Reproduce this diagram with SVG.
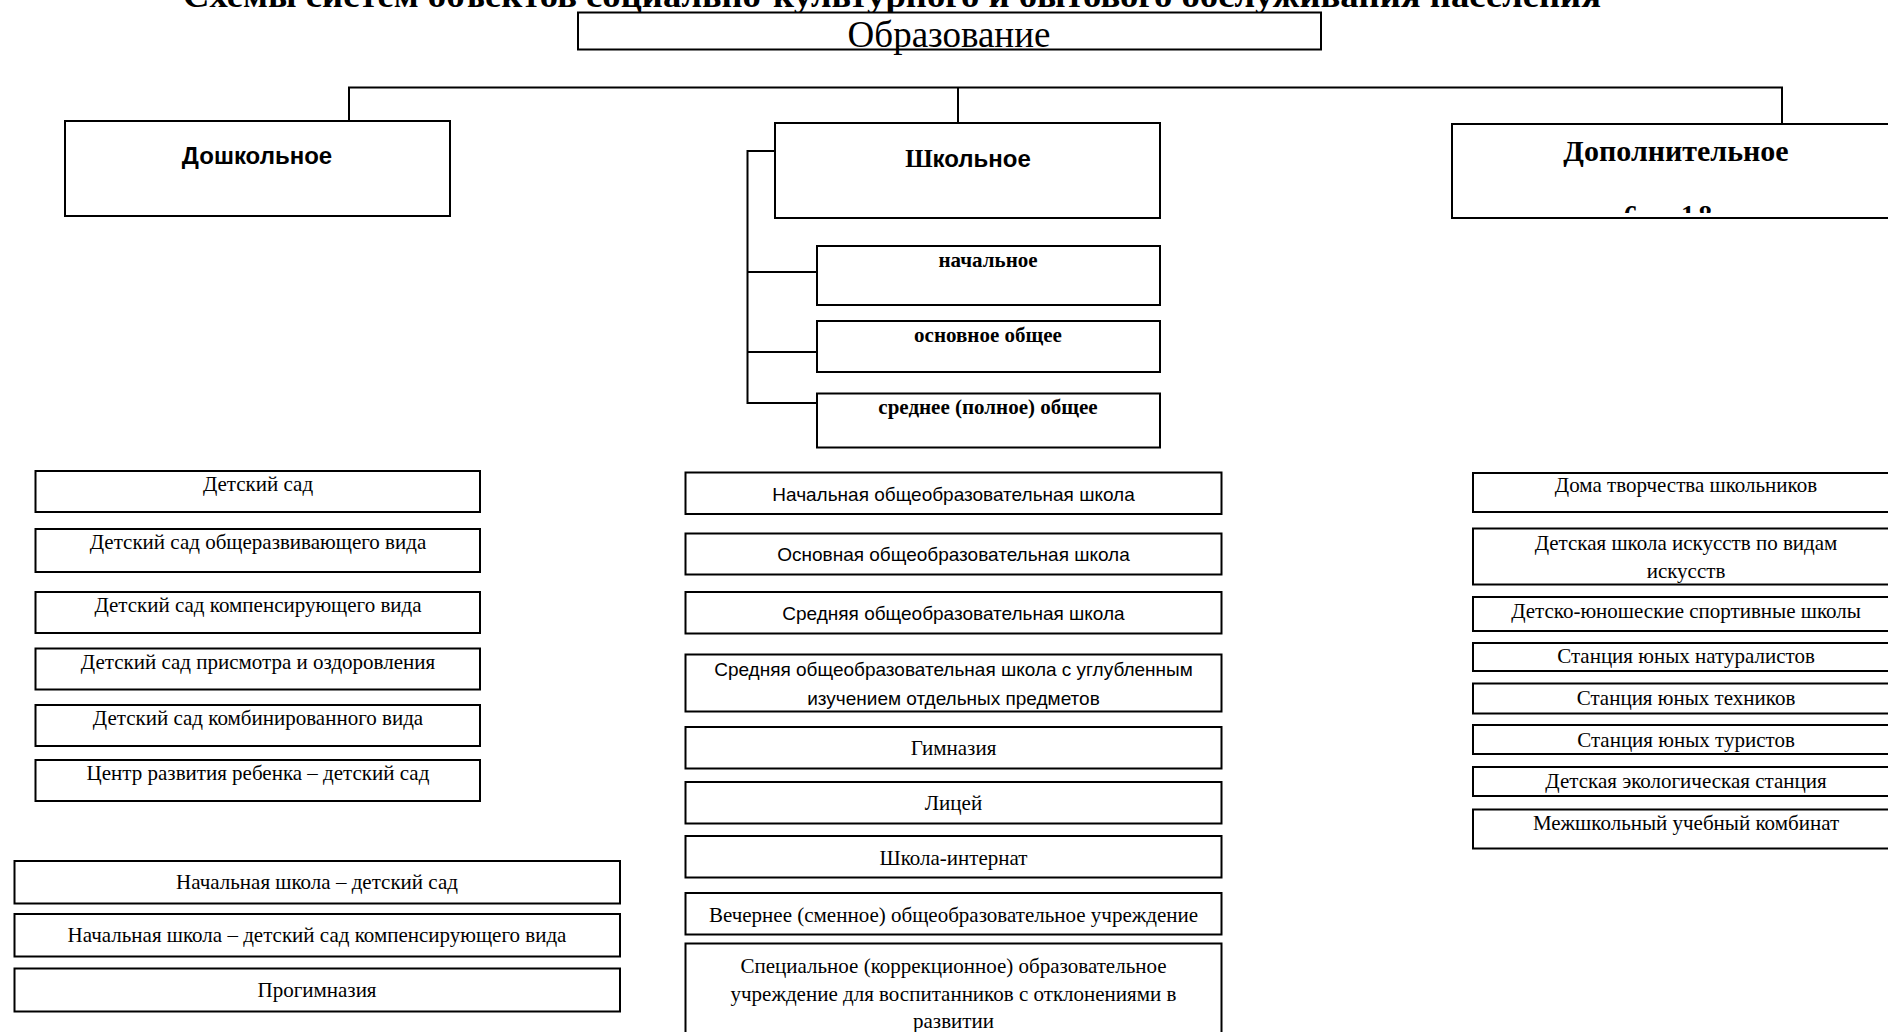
<svg xmlns="http://www.w3.org/2000/svg" width="1888" height="1032" viewBox="0 0 1888 1032">
<style>
.bg{fill:#fff}
.box{fill:#fff;stroke:#000;stroke-width:2}
.conn{fill:none;stroke:#000;stroke-width:2}
.ser{font-family:"Liberation Serif","Times New Roman",serif;font-size:21px;text-anchor:middle;fill:#000}
.serb{font-family:"Liberation Serif","Times New Roman",serif;font-weight:bold;text-anchor:middle;fill:#000}
.san{font-family:"Liberation Sans",Arial,sans-serif;font-size:19px;text-anchor:middle;fill:#000}
.sanb{font-family:"Liberation Sans",Arial,sans-serif;font-weight:bold;text-anchor:middle;fill:#000}
</style>
<defs>
<clipPath id="clipDop"><rect x="1452" y="124" width="436" height="89"/></clipPath>
</defs>
<rect class="bg" x="0" y="0" width="1888" height="1032"/>

<g id="title">
<text class="serb" x="892" y="7" font-size="34" textLength="1418" lengthAdjust="spacingAndGlyphs">Схемы систем объектов социально-культурного и бытового обслуживания населения</text>
</g>

<g id="connectors">
<polyline class="conn" points="349,121 349,87.5 1782,87.5 1782,123"/>
<line class="conn" x1="958" y1="87.5" x2="958" y2="123"/>
<polyline class="conn" points="775,151 747.5,151 747.5,403 817,403"/>
<line class="conn" x1="747.5" y1="272" x2="817" y2="272"/>
<line class="conn" x1="747.5" y1="352" x2="817" y2="352"/>
</g>

<g id="n-obrazovanie">
<rect class="box" x="578" y="12.5" width="743" height="37"/>
<text class="ser" x="949" y="47" style="font-size:37px">Образование</text>
</g>

<g id="n-doshk">
<rect class="box" x="65" y="121" width="385" height="95"/>
<text class="sanb" x="257" y="164" font-size="24">Дошкольное</text>
</g>

<g id="n-shkol">
<rect class="box" x="775" y="123" width="385" height="95"/>
<text x="968" y="167" text-anchor="middle" font-weight="bold" font-size="25"><tspan font-family="Liberation Serif,serif">Ш</tspan><tspan font-family="Liberation Sans,sans-serif" font-size="24">кольное</tspan></text>
</g>

<g id="n-dop">
<rect class="box" x="1452" y="124" width="450" height="94"/>
<text class="serb" x="1676" y="161" font-size="30">Дополнительное</text>
<g clip-path="url(#clipDop)"><text class="serb" x="1624" y="223.5" font-size="27" style="text-anchor:start" textLength="88" lengthAdjust="spacing">6 – 18</text></g>
</g>

<g id="n-nach">
<rect class="box" x="817" y="246" width="343" height="59"/>
<text class="serb" x="988" y="267" font-size="21">начальное</text>
</g>
<g id="n-osn">
<rect class="box" x="817" y="321" width="343" height="51"/>
<text class="serb" x="988" y="342" font-size="21">основное общее</text>
</g>
<g id="n-sred">
<rect class="box" x="817" y="393.5" width="343" height="54"/>
<text class="serb" x="988" y="413.5" font-size="21">среднее (полное) общее</text>
</g>

<!-- left column -->
<g id="l1"><rect class="box" x="35.5" y="471" width="444.5" height="41"/><text class="ser" x="258" y="491">Детский сад</text></g>
<g id="l2"><rect class="box" x="35.5" y="529" width="444.5" height="43"/><text class="ser" x="258" y="549">Детский сад общеразвивающего вида</text></g>
<g id="l3"><rect class="box" x="35.5" y="592" width="444.5" height="41"/><text class="ser" x="258" y="612">Детский сад компенсирующего вида</text></g>
<g id="l4"><rect class="box" x="35.5" y="648.5" width="444.5" height="41"/><text class="ser" x="258" y="668.5">Детский сад присмотра и оздоровления</text></g>
<g id="l5"><rect class="box" x="35.5" y="705" width="444.5" height="41"/><text class="ser" x="258" y="725">Детский сад комбинированного вида</text></g>
<g id="l6"><rect class="box" x="35.5" y="760" width="444.5" height="41"/><text class="ser" x="258" y="780">Центр развития ребенка – детский сад</text></g>

<g id="b1"><rect class="box" x="14.5" y="861" width="605.5" height="42.5"/><text class="ser" x="317" y="889">Начальная школа – детский сад</text></g>
<g id="b2"><rect class="box" x="14.5" y="914" width="605.5" height="42.5"/><text class="ser" x="317" y="942">Начальная школа – детский сад компенсирующего вида</text></g>
<g id="b3"><rect class="box" x="14.5" y="968.5" width="605.5" height="43"/><text class="ser" x="317" y="997">Прогимназия</text></g>

<!-- middle column -->
<g id="m1"><rect class="box" x="685.5" y="472.5" width="536" height="41.5"/><text class="san" x="953.5" y="501">Начальная общеобразовательная школа</text></g>
<g id="m2"><rect class="box" x="685.5" y="533.5" width="536" height="41"/><text class="san" x="953.5" y="561">Основная общеобразовательная школа</text></g>
<g id="m3"><rect class="box" x="685.5" y="592" width="536" height="41.5"/><text class="san" x="953.5" y="620">Средняя общеобразовательная школа</text></g>
<g id="m4"><rect class="box" x="685.5" y="654.5" width="536" height="57"/><text class="san" x="953.5" y="676">Средняя общеобразовательная школа с углубленным</text><text class="san" x="953.5" y="705">изучением отдельных предметов</text></g>
<g id="m5"><rect class="box" x="685.5" y="727" width="536" height="41.5"/><text class="ser" x="953.5" y="755">Гимназия</text></g>
<g id="m6"><rect class="box" x="685.5" y="782" width="536" height="41.5"/><text class="ser" x="953.5" y="810">Лицей</text></g>
<g id="m7"><rect class="box" x="685.5" y="836" width="536" height="41.5"/><text class="ser" x="953.5" y="865">Школа-интернат</text></g>
<g id="m8"><rect class="box" x="685.5" y="893" width="536" height="41.5"/><text class="ser" x="953.5" y="922">Вечернее (сменное) общеобразовательное учреждение</text></g>
<g id="m9"><rect class="box" x="685.5" y="943.5" width="536" height="100"/><text class="ser" x="953.5" y="973">Специальное (коррекционное) образовательное</text><text class="ser" x="953.5" y="1000.5">учреждение для воспитанников с отклонениями в</text><text class="ser" x="953.5" y="1028">развитии</text></g>

<!-- right column -->
<g id="r1"><rect class="box" x="1473" y="473" width="430" height="39"/><text class="ser" x="1686" y="492">Дома творчества школьников</text></g>
<g id="r2"><rect class="box" x="1473" y="528.5" width="430" height="56"/><text class="ser" x="1686" y="550">Детская школа искусств по видам</text><text class="ser" x="1686" y="578">искусств</text></g>
<g id="r3"><rect class="box" x="1473" y="597" width="430" height="34"/><text class="ser" x="1686" y="618">Детско-юношеские спортивные школы</text></g>
<g id="r4"><rect class="box" x="1473" y="643" width="430" height="28"/><text class="ser" x="1686" y="663">Станция юных натуралистов</text></g>
<g id="r5"><rect class="box" x="1473" y="683.5" width="430" height="30"/><text class="ser" x="1686" y="705">Станция юных техников</text></g>
<g id="r6"><rect class="box" x="1473" y="725" width="430" height="29"/><text class="ser" x="1686" y="746.5">Станция юных туристов</text></g>
<g id="r7"><rect class="box" x="1473" y="767" width="430" height="29"/><text class="ser" x="1686" y="788">Детская экологическая станция</text></g>
<g id="r8"><rect class="box" x="1473" y="809.5" width="430" height="39"/><text class="ser" x="1686" y="830">Межшкольный учебный комбинат</text></g>
</svg>
